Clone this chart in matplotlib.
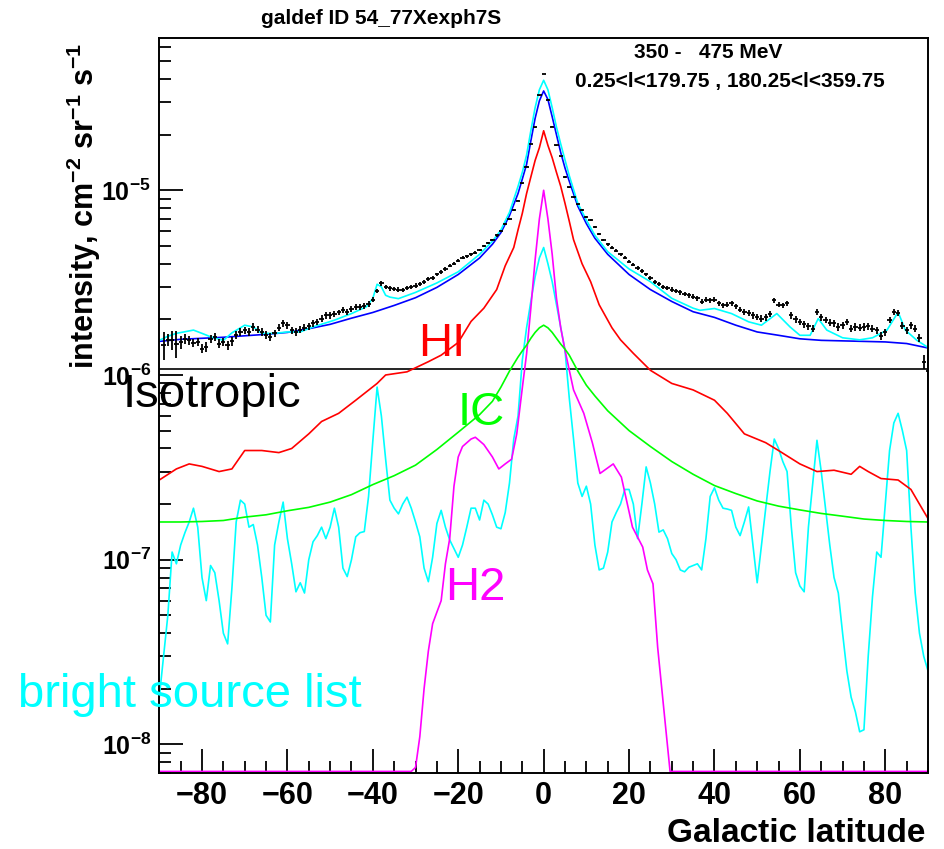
import numpy as np
import matplotlib
matplotlib.use('Agg')
import matplotlib.pyplot as plt
from matplotlib.ticker import LogLocator, FuncFormatter, MultipleLocator, NullFormatter

plt.rcParams['font.family'] = ['Liberation Sans', 'DejaVu Sans']
plt.rcParams['mathtext.fontset'] = 'custom'
plt.rcParams['mathtext.rm'] = 'Liberation Sans'
plt.rcParams['mathtext.bf'] = 'Liberation Sans:bold'
plt.rcParams['mathtext.it'] = 'Liberation Sans:italic'

UNIT = 1e-6  # all values below are in units of 1e-6 cm^-2 sr^-1 s^-1

# data points (1 deg bins)
lat_data = np.arange(-89, 91)
data_vals = [1.45, 1.55, 1.54, 1.48, 1.50, 1.57, 1.54, 1.49, 1.51, 1.39,
             1.42, 1.57, 1.61, 1.48, 1.51, 1.45, 1.52, 1.64, 1.71, 1.75,
             1.71, 1.82, 1.76, 1.71, 1.64, 1.61, 1.68, 1.80, 1.90, 1.86,
             1.75, 1.71, 1.76, 1.80, 1.84, 1.90, 1.94, 2.02, 2.10, 2.10,
             2.13, 2.18, 2.24, 2.19, 2.27, 2.34, 2.34, 2.36, 2.42, 2.55,
             2.85, 3.13, 3.00, 2.94, 2.92, 2.90, 2.88, 2.95, 3.00, 3.05,
             3.12, 3.20, 3.30, 3.35, 3.50, 3.60, 3.75, 3.90, 4.00, 4.15,
             4.30, 4.40, 4.50, 4.60, 4.75, 5.00, 5.20, 5.40, 5.70, 6.00,
             6.60, 7.00, 7.80, 8.80, 10.9, 13.4, 17.8, 21.9, 32.6, 42.5,
             31.0, 22.1, 17.5, 15.3, 11.8, 10.4, 9.20, 8.40, 7.80, 7.20,
             6.90, 6.30, 5.80, 5.40, 5.10, 4.90, 4.70, 4.50, 4.30, 4.10,
             3.95, 3.80, 3.65, 3.50, 3.35, 3.20, 3.10, 3.00, 2.95, 2.90,
             2.85, 2.80, 2.75, 2.70, 2.65, 2.60, 2.49, 2.55, 2.54, 2.55,
             2.45, 2.38, 2.40, 2.44, 2.35, 2.26, 2.20, 2.17, 2.10, 2.06,
             2.02, 2.05, 2.15, 2.54, 2.40, 2.38, 2.45, 2.10, 2.00, 1.94,
             1.88, 1.84, 1.78, 2.19, 2.05, 1.98, 1.92, 1.90, 1.82, 1.86,
             1.94, 1.78, 1.82, 1.80, 1.82, 1.84, 1.78, 1.75, 1.62, 1.70,
             1.98, 2.19, 2.17, 1.85, 1.75, 1.86, 1.78, 1.59, 1.18, 1.05]
data_err = [0.25, 0.12, 0.18, 0.25, 0.12, 0.10] + [0.08] * 172 + [0.10, 0.32]

# total model (blue) and IC (green)
lat_model = [-90, -85, -80, -75, -70, -65, -60, -55, -50, -45, -40, -35, -30, -25, -20,
             -15, -12, -10, -8, -6, -5, -4, -3, -2, -1, 0, 1, 2, 3, 4, 5, 6, 8, 10, 12,
             15, 20, 25, 30, 35, 40, 45, 50, 55, 60, 65, 70, 75, 80, 85, 90]
total_model = [1.52, 1.56, 1.58, 1.60, 1.63, 1.66, 1.70, 1.78, 1.88, 2.03, 2.18, 2.38, 2.62,
               2.98, 3.50, 4.30, 5.10, 5.90, 7.30, 9.60, 11.5, 13.8, 18.5, 24.5, 30.5, 34.5,
               31.0, 25.0, 20.0, 16.0, 13.2, 11.2, 8.20, 6.60, 5.50, 4.50, 3.50, 2.90, 2.50,
               2.20, 2.05, 1.86, 1.71, 1.64, 1.57, 1.54, 1.53, 1.52, 1.51, 1.48, 1.40]
ic = [0.160, 0.160, 0.161, 0.163, 0.170, 0.175, 0.184, 0.192, 0.205, 0.225, 0.255, 0.285,
      0.325, 0.395, 0.490, 0.610, 0.720, 0.860, 1.05, 1.25, 1.35, 1.45, 1.58, 1.70, 1.80,
      1.86, 1.80, 1.70, 1.58, 1.47, 1.38, 1.28, 1.05, 0.880, 0.770, 0.640, 0.500, 0.410,
      0.340, 0.290, 0.252, 0.228, 0.208, 0.195, 0.186, 0.178, 0.172, 0.166, 0.163, 0.161, 0.160]

# total model + sources (upper cyan)
lat_tot = [-90, -88, -86, -82, -80, -78, -75, -73, -70, -68, -66, -63, -60, -57, -54, -49,
           -45, -41.5, -40, -39, -38, -37, -36, -34, -30, -25, -20, -15, -12, -10, -8, -6,
           -5, -4, -3, -2, -1, 0, 1, 2, 3, 4, 5, 6, 8, 10, 12, 15, 20, 25, 30, 35, 36.6,
           40, 44, 48, 51, 54.6, 57.7, 60, 62.4, 64.3, 66.3, 70, 74, 77, 80.4, 83, 84.7,
           87.4, 90]
total_src = [1.54, 1.62, 1.68, 1.75, 1.68, 1.61, 1.54, 1.69, 1.86, 1.82, 1.68, 1.68, 1.71,
             1.71, 1.82, 1.98, 2.15, 2.34, 2.60, 3.10, 3.00, 2.70, 2.64, 2.59, 2.80, 3.15,
             3.62, 4.50, 5.30, 6.10, 7.60, 10.5, 12.5, 15.5, 21.0, 28.0, 35.0, 39.4, 35.0,
             28.0, 22.0, 17.8, 14.6, 12.0, 8.50, 6.90, 5.70, 4.65, 3.75, 3.20, 2.60, 2.30,
             2.24, 2.29, 2.15, 1.94, 1.86, 2.15, 1.82, 1.64, 1.64, 2.02, 1.75, 1.59, 1.55,
             1.59, 1.75, 2.19, 1.75, 1.54, 1.41]

# HI (red)
lat_hi = [-90, -86, -83, -80, -76, -73, -70, -66, -62, -59, -55, -52, -48, -44, -39, -37,
          -32, -27, -24, -20, -17, -14, -11, -9, -7, -6, -5, -4, -3, -2, -1, 0, 1, 2, 3, 4,
          5, 6, 7, 9, 11, 13, 16, 18, 21, 25, 30, 35, 40, 43, 47, 52, 55, 60, 64, 68, 72,
          74, 76, 79, 83, 86, 88, 90]
hi = [0.27, 0.31, 0.33, 0.32, 0.30, 0.31, 0.39, 0.39, 0.38, 0.40, 0.48, 0.56, 0.62, 0.73,
      0.90, 1.00, 1.04, 1.18, 1.28, 1.50, 1.95, 2.30, 2.90, 3.90, 4.90, 6.10, 7.50, 9.60,
      11.8, 14.5, 17.0, 21.0, 17.5, 15.0, 12.5, 10.5, 8.50, 6.80, 5.40, 4.00, 3.20, 2.40,
      1.80, 1.55, 1.31, 1.06, 0.90, 0.83, 0.73, 0.62, 0.48, 0.43, 0.39, 0.33, 0.30, 0.305,
      0.29, 0.32, 0.30, 0.275, 0.27, 0.24, 0.20, 0.167]

# H2 (magenta), zero outside |b|<30
lat_h2 = [-90, -31, -30, -29, -28, -27, -26, -25, -24, -23, -22, -21, -20, -19, -17, -16,
          -15, -14, -12, -10.5, -9, -7.5, -6.3, -5, -4, -3, -2, -1, 0, 1, 2, 3, 4, 5, 7,
          9.4, 11.4, 13.2, 16.3, 18.2, 20.8, 23.2, 24.3, 25.6, 26.7, 28.4, 29.6, 90]
h2 = [0, 0, 0.0075, 0.011, 0.020, 0.032, 0.045, 0.052, 0.060, 0.095, 0.13, 0.25, 0.36, 0.41,
      0.45, 0.46, 0.44, 0.42, 0.36, 0.31, 0.33, 0.35, 0.48, 0.85, 1.30, 2.30, 4.20, 7.0,
      10.0, 7.0, 4.50, 2.60, 1.80, 1.36, 0.83, 0.62, 0.43, 0.293, 0.33, 0.28, 0.15, 0.117,
      0.088, 0.074, 0.0335, 0.0135, 0, 0]

# bright source list (lower cyan)
lat_src = np.arange(-90, 91)
sources = [0.018, 0.03, 0.05, 0.11, 0.095, 0.12, 0.14, 0.16, 0.19, 0.15,
           0.08, 0.06, 0.093, 0.085, 0.06, 0.04, 0.035, 0.07, 0.16, 0.21,
           0.20, 0.15, 0.155, 0.12, 0.08, 0.05, 0.046, 0.12, 0.16, 0.205,
           0.13, 0.095, 0.067, 0.075, 0.066, 0.10, 0.125, 0.135, 0.15, 0.13,
           0.15, 0.19, 0.15, 0.09, 0.081, 0.10, 0.133, 0.14, 0.142, 0.22,
           0.44, 0.86, 0.60, 0.35, 0.21, 0.19, 0.177, 0.20, 0.218, 0.19,
           0.16, 0.133, 0.09, 0.076, 0.103, 0.157, 0.185, 0.15, 0.128, 0.115,
           0.103, 0.12, 0.15, 0.19, 0.19, 0.164, 0.21, 0.20, 0.175, 0.15,
           0.147, 0.18, 0.26, 0.45, 0.60, 1.20, 1.80, 2.50, 3.40, 4.30,
           4.90, 4.00, 3.20, 2.40, 1.80, 1.36, 0.75, 0.45, 0.26, 0.22,
           0.25, 0.20, 0.12, 0.088, 0.09, 0.11, 0.16, 0.18, 0.20, 0.24,
           0.24, 0.20, 0.13, 0.20, 0.318, 0.26, 0.20, 0.141, 0.145, 0.13,
           0.108, 0.10, 0.088, 0.086, 0.091, 0.093, 0.095, 0.088, 0.13, 0.22,
           0.245, 0.21, 0.19, 0.188, 0.185, 0.15, 0.135, 0.16, 0.193, 0.12,
           0.075, 0.12, 0.19, 0.30, 0.45, 0.40, 0.34, 0.30, 0.15, 0.085,
           0.072, 0.067, 0.15, 0.258, 0.443, 0.30, 0.19, 0.12, 0.08, 0.066,
           0.04, 0.025, 0.018, 0.015, 0.0117, 0.012, 0.03, 0.063, 0.11, 0.103,
           0.20, 0.39, 0.55, 0.62, 0.50, 0.39, 0.15, 0.066, 0.04, 0.03,
           0.025]

isotropic = 1.074

ylo, yhi = 7.0e-9, 6.7e-5

fig = plt.figure(figsize=(9.44, 8.49), dpi=100)
ax = fig.add_axes([159.3 / 944, 1 - 773 / 849, (928 - 159.3) / 944, (773 - 37.7) / 849])

lw = 1.2
ax.axhline(isotropic * UNIT, color='black', lw=lw)
ax.plot(lat_src, np.array(sources) * UNIT, color='#00ffff', lw=lw)
h2_arr = np.array(h2) * UNIT
ax.plot(lat_h2, np.where(h2_arr > 0, h2_arr, ylo * 1.02), color='#ff00ff', lw=lw)
ax.plot(lat_model, np.array(ic) * UNIT, color='#00ff00', lw=lw)
ax.plot(lat_hi, np.array(hi) * UNIT, color='#ff0000', lw=lw)
ax.plot(lat_model, np.array(total_model) * UNIT, color='#0000ff', lw=lw)
ax.plot(lat_tot, np.array(total_src) * UNIT, color='#00ffff', lw=lw)
ax.errorbar(lat_data, np.array(data_vals) * UNIT, yerr=np.array(data_err) * UNIT,
            xerr=0.5, fmt='none', ecolor='black', elinewidth=1.3, capsize=0)

ax.set_yscale('log')
ax.set_xlim(-90, 90)
ax.set_ylim(ylo, yhi)

ax.xaxis.set_major_locator(MultipleLocator(20))
ax.xaxis.set_minor_locator(MultipleLocator(5))
ax.yaxis.set_major_locator(LogLocator(base=10, numticks=10))
ax.yaxis.set_minor_locator(LogLocator(base=10, subs=np.arange(2, 10), numticks=20))
ax.yaxis.set_minor_formatter(NullFormatter())
ax.yaxis.set_major_formatter(FuncFormatter(lambda v, p: r'$\mathbf{10^{%d}}$' % round(np.log10(v))))
ax.tick_params(axis='both', which='both', direction='in', top=False, right=False, width=1.3)
ax.tick_params(axis='both', which='major', length=17)
ax.tick_params(axis='both', which='minor', length=8.5)
ax.tick_params(axis='x', which='major', labelsize=22, pad=6)
ax.tick_params(axis='y', which='major', labelsize=18, pad=6)
for lab in ax.get_xticklabels():
    lab.set_fontweight('bold')
for s in ax.spines.values():
    s.set_linewidth(1.4)

# axis titles
fig.text(925 / 944, 1 - 833 / 849, 'Galactic latitude', ha='right', va='center',
         fontsize=24, fontweight='bold')
fig.text(84 / 944, 1 - 43 / 849,
         r'intensity, cm$^{\mathbf{-2}}$ sr$^{\mathbf{-1}}$ s$^{\mathbf{-1}}$',
         rotation=90, ha='center', va='top', fontsize=22, fontweight='bold')

fig.text(381 / 944, 1 - 18 / 849, 'galdef ID 54_77Xexph7S', ha='center', va='center',
         fontsize=15, fontweight='bold')
fig.text(708 / 944, 1 - 53 / 849, '350 -   475 MeV', ha='center', va='center',
         fontsize=15, fontweight='bold')
fig.text(730 / 944, 1 - 82 / 849, '0.25<l<179.75 , 180.25<l<359.75', ha='center', va='center',
         fontsize=15, fontweight='bold')

# component labels
big = 34
fig.text(418 / 944, 1 - 356 / 849, 'HI', color='#ff0000', fontsize=big, va='baseline')
fig.text(123 / 944, 1 - 407 / 849, 'Isotropic', color='black', fontsize=big, va='baseline')
fig.text(458 / 944, 1 - 425 / 849, 'IC', color='#00ff00', fontsize=big, va='baseline')
fig.text(445 / 944, 1 - 600 / 849, 'H2', color='#ff00ff', fontsize=big, va='baseline')
fig.text(18 / 944, 1 - 707 / 849, 'bright source list', color='#00ffff', fontsize=big,
         va='baseline')

fig.savefig('out.png', dpi=100)
